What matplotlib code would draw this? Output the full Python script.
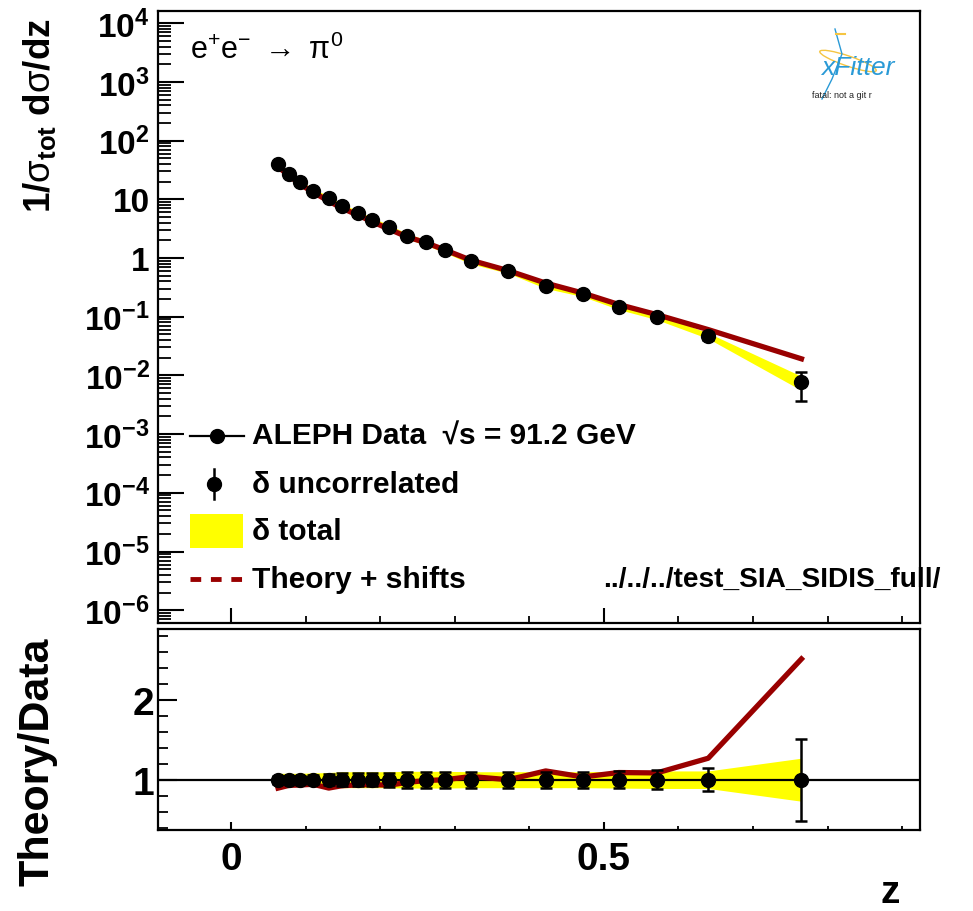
import numpy as np
import matplotlib
matplotlib.use('Agg')
import matplotlib.pyplot as plt
from matplotlib.ticker import FixedLocator, NullFormatter, LogLocator, MultipleLocator
from matplotlib.patches import Rectangle, Ellipse
from matplotlib.lines import Line2D

plt.rcParams['font.family'] = ['Liberation Sans', 'DejaVu Sans']
plt.rcParams['mathtext.fontset'] = 'custom'
plt.rcParams['mathtext.rm'] = 'Liberation Sans'
plt.rcParams['mathtext.it'] = 'Liberation Sans:italic'
plt.rcParams['mathtext.bf'] = 'Liberation Sans:bold'
plt.rcParams['mathtext.sf'] = 'Liberation Sans'

# ---------------- data ----------------
z = [0.063, 0.078, 0.092, 0.110, 0.131, 0.149, 0.170, 0.189, 0.212, 0.236,
     0.261, 0.287, 0.322, 0.372, 0.422, 0.472, 0.520, 0.571, 0.640, 0.765]
data = [39.9, 27.0, 19.5, 14.0, 10.4, 7.60, 5.77, 4.44, 3.33, 2.37,
        1.85, 1.37, 0.879, 0.608, 0.337, 0.244, 0.148, 0.100, 0.0475, 0.00762]
theory = [35.7, 25.1, 18.2, 13.2, 9.31, 7.03, 5.39, 4.17, 3.10, 2.29,
          1.83, 1.37, 0.914, 0.608, 0.374, 0.2525, 0.1613, 0.1085, 0.0603, 0.01916]
unc_rel = [0.05, 0.05, 0.05, 0.06, 0.07, 0.085, 0.085, 0.085, 0.09, 0.10,
           0.10, 0.10, 0.10, 0.10, 0.10, 0.10, 0.11, 0.12, 0.145, 0.515]
tot_rel = [0.08, 0.08, 0.08, 0.085, 0.09, 0.10, 0.10, 0.10, 0.10, 0.105,
           0.105, 0.105, 0.10, 0.10, 0.10, 0.10, 0.105, 0.11, 0.11, 0.27]

ytick_vals = [1e-6, 1e-5, 1e-4, 1e-3, 1e-2, 1e-1, 1, 10, 1e2, 1e3, 1e4]
ytick_labels = [r'$\mathbf{10^{-6}}$', r'$\mathbf{10^{-5}}$', r'$\mathbf{10^{-4}}$',
                r'$\mathbf{10^{-3}}$', r'$\mathbf{10^{-2}}$', r'$\mathbf{10^{-1}}$',
                '1', '10', r'$\mathbf{10^{2}}$', r'$\mathbf{10^{3}}$', r'$\mathbf{10^{4}}$']
xtick_vals = [0, 0.5]
xtick_labels = ['0', '0.5']
rtick_vals = [1, 2]
rtick_labels = ['1', '2']

z = np.array(z); data = np.array(data); theory = np.array(theory)
unc = np.array(unc_rel); tot = np.array(tot_rel)

YELLOW = '#ffff00'
RED = '#990000'

W, H = 973, 912
fig = plt.figure(figsize=(W / 100, H / 100), dpi=100)

def fx(x):
    return x / W

def fy(y):
    return 1 - y / H

L, R = 158, 920
ax1 = fig.add_axes([fx(L), fy(624), fx(R) - fx(L), fy(12) - fy(624)])
ax2 = fig.add_axes([fx(L), fy(830.7), fx(R) - fx(L), fy(630) - fy(830.7)])

xlim = (-0.098, 0.924)
MS = 10

# ---------------- top panel ----------------
ax1.fill_between(z, data * (1 - tot), data * (1 + tot), color=YELLOW, lw=0, zorder=1)
ax1.plot(z, theory, color=RED, lw=3.8, zorder=2)
ax1.errorbar(z, data, yerr=data * unc, fmt='o', color='k', ms=MS, capsize=4,
             elinewidth=1.8, capthick=1.8, zorder=3)
ax1.set_yscale('log')
ax1.set_ylim(10 ** -6.218, 10 ** 4.208)
ax1.set_xlim(*xlim)
ax1.yaxis.set_major_locator(FixedLocator(ytick_vals))
ax1.set_yticklabels(ytick_labels)
ax1.yaxis.set_minor_locator(LogLocator(base=10, subs=np.arange(2, 10), numticks=50))
ax1.yaxis.set_minor_formatter(NullFormatter())
ax1.xaxis.set_major_locator(FixedLocator(xtick_vals))
ax1.xaxis.set_minor_locator(MultipleLocator(0.1))
ax1.set_xticklabels([])
ax1.tick_params(axis='y', which='major', direction='in', length=19, width=1.5,
                labelsize=24, pad=6)
ax1.tick_params(axis='y', which='minor', direction='in', length=9.5, width=1.3)
ax1.tick_params(axis='x', which='major', direction='in', length=11, width=1.5)
ax1.tick_params(axis='x', which='minor', direction='in', length=5, width=1.3)
for lab in ax1.get_yticklabels():
    lab.set_fontweight('bold')
for s in ax1.spines.values():
    s.set_linewidth(1.6)

# ---------------- ratio panel ----------------
ax2.fill_between(z, 1 - tot, 1 + tot, color=YELLOW, lw=0, zorder=1)
ax2.axhline(1, color='k', lw=1.6, zorder=2)
ax2.plot(z, theory / data, color=RED, lw=3.8, zorder=3)
ax2.errorbar(z, np.ones_like(z), yerr=unc, fmt='o', color='k', ms=MS, capsize=4,
             elinewidth=1.8, capthick=1.8, zorder=4)
ax2.set_xlim(*xlim)
ax2.set_ylim(0.373, 2.89)
ax2.yaxis.set_major_locator(FixedLocator(rtick_vals))
ax2.set_yticklabels(rtick_labels)
ax2.yaxis.set_minor_locator(MultipleLocator(0.2))
ax2.xaxis.set_major_locator(FixedLocator(xtick_vals))
ax2.set_xticklabels(xtick_labels)
ax2.xaxis.set_minor_locator(MultipleLocator(0.1))
ax2.tick_params(axis='y', which='major', direction='in', length=14, width=1.5,
                labelsize=28, pad=3)
ax2.tick_params(axis='y', which='minor', direction='in', length=7, width=1.3)
ax2.tick_params(axis='x', which='major', direction='in', length=6, width=1.5,
                labelsize=28, pad=8)
ax2.tick_params(axis='x', which='minor', direction='in', length=3, width=1.3)
for lab in ax2.get_yticklabels() + ax2.get_xticklabels():
    lab.set_fontweight('bold')
for s in ax2.spines.values():
    s.set_linewidth(1.6)

# ---------------- axis titles ----------------
fig.text(fx(40), fy(18), r'$\mathbf{1/}\mathregular{\sigma}_{\mathbf{tot}}\ \mathbf{d}\mathregular{\sigma}\mathbf{/dz}$',
         rotation=90, ha='center', va='top', fontsize=26.5)
fig.text(fx(38), fy(638), 'Theory/Data', rotation=90, ha='center', va='top',
         fontsize=31, fontweight='bold')
fig.text(fx(890), fy(893), 'z', ha='center', va='center', fontsize=28, fontweight='bold')

# process label
fig.text(fx(190), fy(50), r'$\mathregular{e^{+}e^{-}\ \rightarrow\ \pi^{0}}$',
         ha='left', va='center', fontsize=22)

# path text
fig.text(fx(603), fy(580), '../../../test_SIA_SIDIS_full/', ha='left', va='center',
         fontsize=20.2, fontweight='bold')

# ---------------- legend (manual) ----------------
legend_labels = ['ALEPH Data  \u221as = 91.2 GeV', '\u03b4 uncorrelated', '\u03b4 total',
                 'Theory + shifts']
ly = [437, 485, 532, 580]
tx = 252
# entry 1: line + marker
fig.add_artist(Line2D([fx(190), fx(244)], [fy(ly[0]), fy(ly[0])], color='k', lw=1.6))
fig.add_artist(Line2D([fx(217)], [fy(ly[0])], color='k', marker='o', ms=MS, lw=0))
# entry 2: marker with vertical error
fig.add_artist(Line2D([fx(214), fx(214)], [fy(ly[1] - 15), fy(ly[1] + 15)], color='k', lw=1.8))
fig.add_artist(Line2D([fx(214)], [fy(ly[1])], color='k', marker='o', ms=MS, lw=0))
# entry 3: yellow box
fig.add_artist(Rectangle((fx(190), fy(ly[2] + 17)), fx(243) - fx(190), fy(ly[2] - 17) - fy(ly[2] + 17),
                         transform=fig.transFigure, color=YELLOW, lw=0))
# entry 4: dashed red line
fig.add_artist(Line2D([fx(190), fx(245)], [fy(ly[3]), fy(ly[3])], color=RED, lw=3.5,
                      dashes=(2.2, 2.0)))
for lab, y in zip(legend_labels, ly):
    fig.text(fx(tx), fy(y), lab, ha='left', va='center', fontsize=21.5, fontweight='bold')

# ---------------- logo ----------------
fig.add_artist(Ellipse((fx(848), fy(62)), fx(60) - fx(0), fy(0) - fy(10), angle=-20,
                       transform=fig.transFigure, fill=False, ec='#f5c542', lw=1.0))
fig.add_artist(Line2D([fx(835), fx(842), fx(832), fx(822)], [fy(30), fy(55), fy(80), fy(100)],
                      color='#2a9ad6', lw=1.0))
fig.add_artist(Line2D([fx(836), fx(845)], [fy(35), fy(35)], color='#f5c542', lw=1.5))
fig.text(fx(858), fy(68), 'xFitter', ha='center', va='center', fontsize=19,
         style='italic', color='#2a9ad6')
fig.text(fx(812), fy(95), 'fatal: not a git r', ha='left', va='center', fontsize=6.5,
         color='#222222')

fig.savefig('out.png', dpi=100)
